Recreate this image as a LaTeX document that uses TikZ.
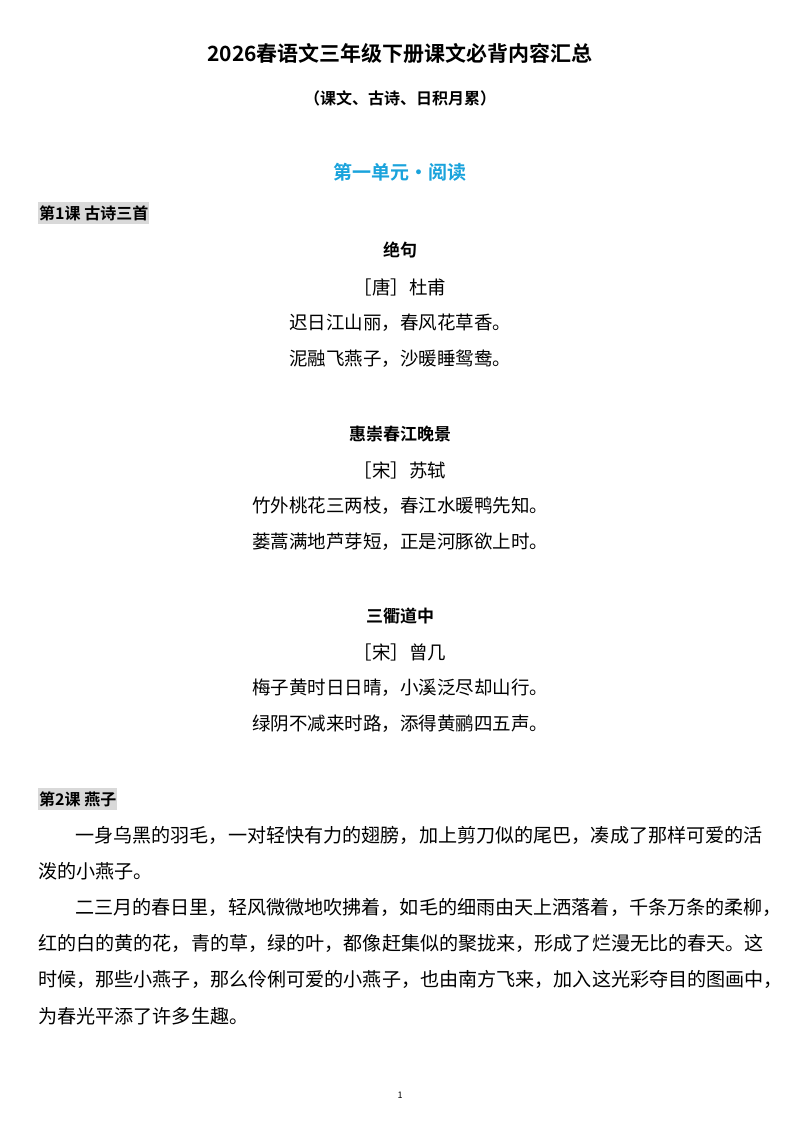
\documentclass[tikz,border=0pt]{standalone}
\usepackage{fontspec}
\setmainfont{Noto Sans CJK SC}[BoldFont={Noto Sans CJK SC Bold}]
\definecolor{unitblue}{HTML}{1AA3DC}
\definecolor{hl}{HTML}{D9D9D9}
\begin{document}
\begin{tikzpicture}[x=1pt,y=-1pt,
  every node/.style={inner sep=0pt},
  title/.style={font=\fontsize{21}{21}\selectfont\bfseries},
  sub/.style={font=\fontsize{16}{16}\selectfont\bfseries},
  unit/.style={font=\fontsize{19}{19}\selectfont\bfseries,text=unitblue},
  lesson/.style={font=\fontsize{16}{16}\selectfont\bfseries,fill=hl,inner xsep=1pt,inner ysep=3pt,anchor=west},
  ptitle/.style={font=\fontsize{17}{17}\selectfont\bfseries},
  body/.style={font=\fontsize{18.5}{18.5}\selectfont},
  para/.style={font=\fontsize{19.1}{19.1}\selectfont,anchor=west}]
\useasboundingbox (0,0) rectangle (800,1132);
\fill[white] (0,0) rectangle (800,1132);
\node[title] (t) at (400,53) {2026春语文三年级下册课文必背内容汇总};
\node[sub] (s) at (400,98) {（课文、古诗、日积月累）};
\node[unit] (u) at (400,172) {第一单元•阅读};
\node[lesson] (l1) at (38,213) {第1课\ 古诗三首};
\node[ptitle] (p1) at (400,250) {绝句};
\node[body] (a1) at (400,287) {［唐］杜甫};
\node[body] (a1l1) at (400,323) {迟日江山丽，春风花草香。};
\node[body] (a1l2) at (400,359) {泥融飞燕子，沙暖睡鸳鸯。};
\node[ptitle] (p2) at (400,434) {惠崇春江晚景};
\node[body] (a2) at (400,470) {［宋］苏轼};
\node[body] (a2l1) at (400,506) {竹外桃花三两枝，春江水暖鸭先知。};
\node[body] (a2l2) at (400,542) {蒌蒿满地芦芽短，正是河豚欲上时。};
\node[ptitle] (p3) at (400,616) {三衢道中};
\node[body] (a3) at (400,652) {［宋］曾几};
\node[body] (a3l1) at (400,688) {梅子黄时日日晴，小溪泛尽却山行。};
\node[body] (a3l2) at (400,724) {绿阴不减来时路，添得黄鹂四五声。};
\node[lesson] (l2) at (38,799) {第2课\ 燕子};
\node[para] (q1) at (75,835) {一身乌黑的羽毛，一对轻快有力的翅膀，加上剪刀似的尾巴，凑成了那样可爱的活};
\node[para] (q2) at (38,871) {泼的小燕子。};
\node[para] (q3) at (75,907) {二三月的春日里，轻风微微地吹拂着，如毛的细雨由天上洒落着，千条万条的柔柳，};
\node[para] (q4) at (38,943) {红的白的黄的花，青的草，绿的叶，都像赶集似的聚拢来，形成了烂漫无比的春天。这};
\node[para] (q5) at (38,979) {时候，那些小燕子，那么伶俐可爱的小燕子，也由南方飞来，加入这光彩夺目的图画中，};
\node[para] (q6) at (38,1016) {为春光平添了许多生趣。};
\node[font=\fontsize{9}{9}\selectfont] (pg) at (400,1095) {1};
\end{tikzpicture}
\end{document}
